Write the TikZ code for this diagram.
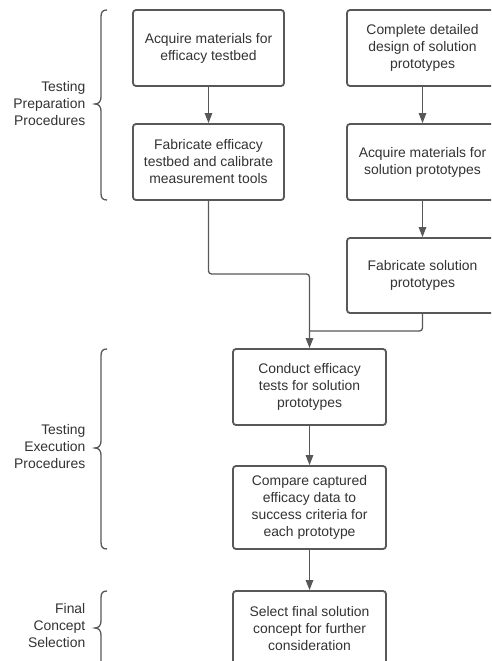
\documentclass[tikz,border=0pt]{standalone}
\usepackage{fontspec}
\setmainfont{Liberation Sans}
\usetikzlibrary{arrows.meta}
\definecolor{txt}{HTML}{333333}
\definecolor{ln}{HTML}{585858}
\tikzset{
  box/.style={draw=ln, line width=1.8pt, rounded corners=3pt, minimum width=151pt,
    inner sep=0pt, align=center, text=txt,
    font=\fontsize{13.9pt}{17pt}\selectfont},
  conn/.style={draw=ln, line width=1.3pt, rounded corners=3pt},
  arr/.style={conn, -{Triangle[length=10pt,width=7.5pt]}},
  bracestyle/.style={draw=ln, line width=1.3pt},
  lab/.style={anchor=east, align=right, text=txt, inner sep=0pt,
    font=\fontsize{13.9pt}{17pt}\selectfont}
}
\begin{document}
\begin{tikzpicture}[x=1pt,y=-1pt]
\useasboundingbox (0,0) rectangle (491,661);
\clip (0,0) rectangle (491,661);
\fill[white] (0,0) rectangle (491,661);

% left column
\node[box, minimum height=76pt] (b1) at (208.5,48) {Acquire materials for\\efficacy testbed};
\node[box, minimum height=76pt] (b2) at (208.5,162) {Fabricate efficacy\\testbed and calibrate\\measurement tools};
% right column
\node[box, minimum height=76pt] (b3) at (422.5,48) {Complete detailed\\design of solution\\prototypes};
\node[box, minimum height=76pt] (b4) at (422.5,162) {Acquire materials for\\solution prototypes};
\node[box, minimum height=75pt] (b5) at (422.5,275.5) {Fabricate solution\\prototypes};
% center column
\node[box, minimum width=153pt, minimum height=76pt] (b6) at (309.5,387) {Conduct efficacy\\tests for solution\\prototypes};
\node[box, minimum width=153pt, minimum height=83pt] (b7) at (309.5,507.5) {Compare captured\\efficacy data to\\success criteria for\\each prototype};
\node[box, minimum width=153pt, minimum height=76pt] (b8) at (309.5,629) {Select final solution\\concept for further\\consideration};

% connectors
\draw[arr] (b1) -- (b2);
\draw[arr] (b3) -- (b4);
\draw[arr] (b4) -- (b5);
\coordinate (j1) at (309.5,274);
\coordinate (j2) at (309.5,331);
\draw[arr] (b2.south) -- (b2.south |- j1) -- (j1) -- (b6.north);
\draw[conn] (b5.south) -- (b5.south |- j2) -- (j2);
\draw[arr] (b6) -- (b7);
\draw[arr] (b7) -- (b8);

% braces
\draw[bracestyle] (107,10) .. controls (102.5,10) and (101,12) .. (101,17) -- (101,97)
  .. controls (101,101) and (99,104) .. (95,104)
  .. controls (99,104) and (101,107) .. (101,111) -- (101,193)
  .. controls (101,198) and (102.5,200) .. (107,200);
\draw[bracestyle] (107,349) .. controls (102.5,349) and (101,351) .. (101,356) -- (101,441)
  .. controls (101,445) and (99,448) .. (95,448)
  .. controls (99,448) and (101,451) .. (101,455) -- (101,542)
  .. controls (101,547) and (102.5,549) .. (107,549);
\draw[bracestyle] (107,591) .. controls (102.5,591) and (101,593) .. (101,598) -- (101,621)
  .. controls (101,625) and (99,628) .. (95,628)
  .. controls (99,628) and (101,631) .. (101,635) -- (101,700);

% labels
\node[lab] (l1) at (85.5,104) {Testing\\Preparation\\Procedures};
\node[lab] (l2) at (85.5,447) {Testing\\Execution\\Procedures};
\node[lab] (l3) at (85.5,626) {Final\\Concept\\Selection};
\end{tikzpicture}
\end{document}
